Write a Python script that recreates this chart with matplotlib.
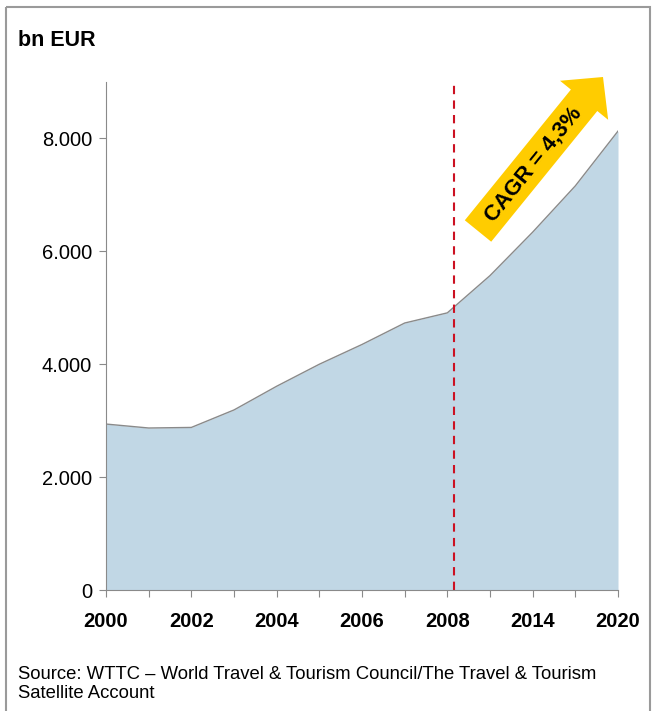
import matplotlib.pyplot as plt
from matplotlib.patches import FancyArrow, Rectangle

plt.rcParams['font.family'] = ['Liberation Sans', 'DejaVu Sans']

years = [2000, 2001, 2002, 2003, 2004, 2005, 2006, 2007, 2008, 2011, 2014, 2017, 2020]
values = [2940, 2870, 2880, 3190, 3610, 4000, 4350, 4730, 4910, 5570, 6340, 7160, 8130]
tick_labels = ['2000', '2002', '2004', '2006', '2008', '2014', '2020']
y_ticks = [0, 2000, 4000, 6000, 8000]
y_tick_labels = ['0', '2.000', '4.000', '6.000', '8.000']
crisis_pos = 8.15

fig = plt.figure(figsize=(6.54, 7.11), dpi=100)

# overlay in pixel coords for frame and arrow
ov = fig.add_axes([0, 0, 1, 1], zorder=0)
ov.set_xlim(0, 654)
ov.set_ylim(711, 0)
ov.axis('off')
ov.add_patch(Rectangle((6, 7), 644, 720, fill=False, edgecolor='#9a9a9a', linewidth=1.5))

ax = fig.add_axes([106 / 654, (711 - 590) / 711, 512 / 654, 508 / 711], zorder=1)
ax.patch.set_alpha(0)
x = list(range(len(years)))
ax.fill_between(x, values, 0, color='#C1D7E5', linewidth=0)
ax.plot(x, values, color='#8a8a8a', linewidth=1)
ax.axvline(crisis_pos, color='#CC1122', linestyle=(0, (4, 3)), linewidth=1.5)

ax.set_xlim(0, len(years) - 1)
ax.set_ylim(0, 9000)
ax.set_xticks(x)
ax.set_xticklabels([tick_labels[i // 2] if i % 2 == 0 else '' for i in x],
                   fontsize=14.5, fontweight='bold')
ax.set_yticks(y_ticks)
ax.set_yticklabels(y_tick_labels, fontsize=14.5)
ax.tick_params(axis='x', length=5, color='#8a8a8a', pad=11)
ax.tick_params(axis='y', length=5, color='#8a8a8a', pad=5)
for s in ['top', 'right']:
    ax.spines[s].set_visible(False)
for s in ['left', 'bottom']:
    ax.spines[s].set_color('#8a8a8a')

# CAGR arrow
ov2 = fig.add_axes([0, 0, 1, 1], zorder=2)
ov2.set_xlim(0, 654)
ov2.set_ylim(711, 0)
ov2.axis('off')
ov2.add_patch(FancyArrow(478, 231, 125, -154, width=34, head_width=62, head_length=30,
                         length_includes_head=True, color='#FFCC00', linewidth=0))
ov2.text(533, 164, 'CAGR = 4,3%', rotation=51, fontsize=16, fontweight='bold',
         ha='center', va='center', rotation_mode='anchor')

fig.text(18 / 654, 1 - 40 / 711, 'bn EUR', fontsize=15.5, fontweight='bold', va='center')
fig.text(18 / 654, 1 - 684 / 711, 'Source: WTTC \u2013 World Travel & Tourism Council/The Travel & Tourism\nSatellite Account',
         fontsize=13.3, va='center', linespacing=1.15)

fig.savefig('out.png', dpi=100)
